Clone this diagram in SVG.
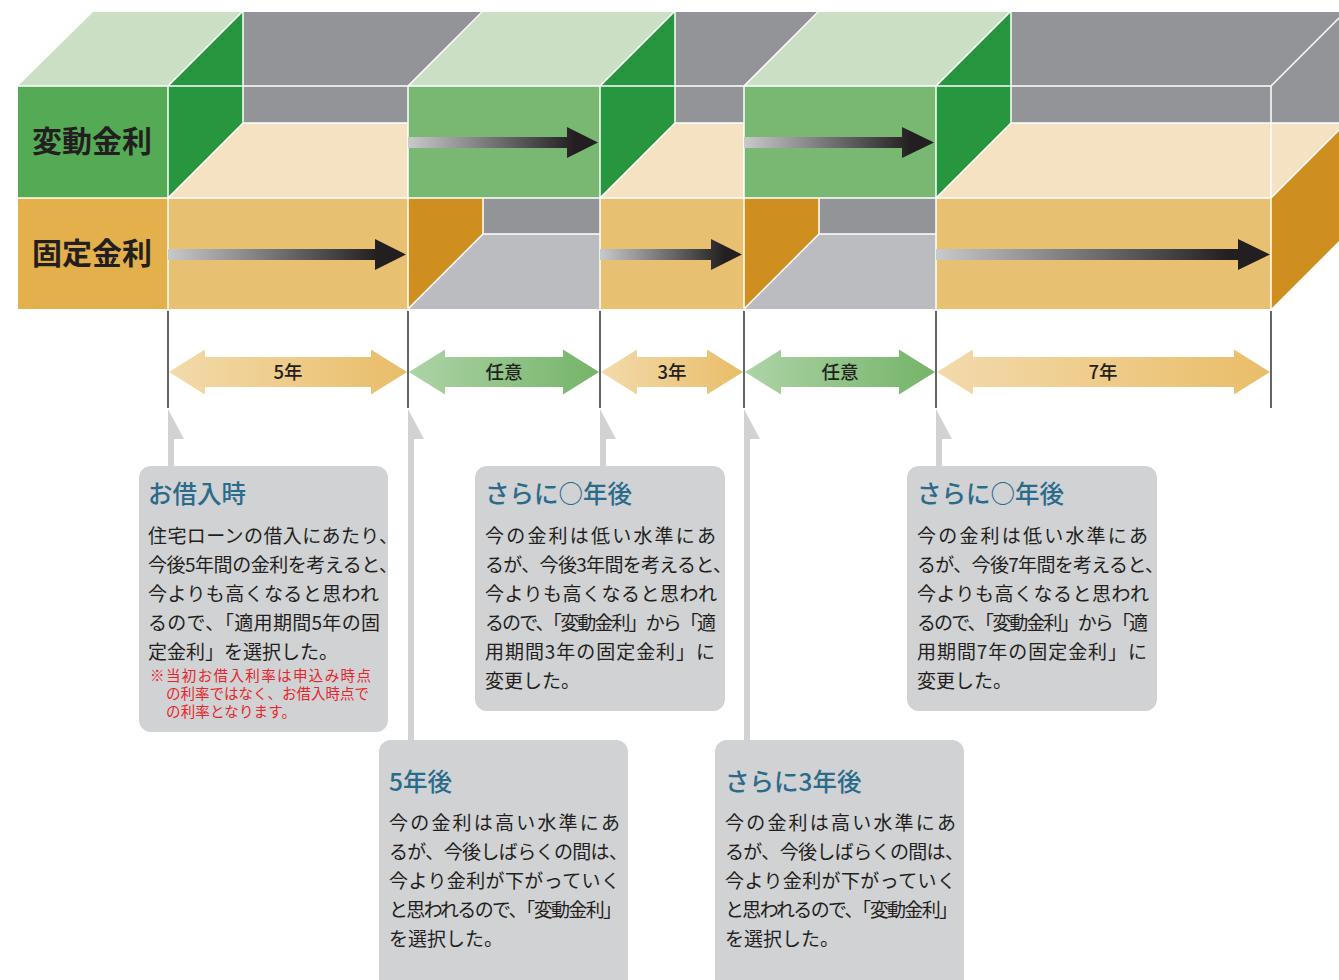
<svg xmlns="http://www.w3.org/2000/svg" width="1339" height="980" viewBox="0 0 1339 980">
<defs>
<linearGradient id="gArr" x1="0" y1="0" x2="1" y2="0"><stop offset="0" stop-color="#c8c9cb"/><stop offset="0.88" stop-color="#231f20"/></linearGradient>
<linearGradient id="gOr" x1="0" y1="0" x2="1" y2="0"><stop offset="0" stop-color="#f3daab"/><stop offset="1" stop-color="#e9bd68"/></linearGradient>
<linearGradient id="gGr" x1="0" y1="0" x2="1" y2="0"><stop offset="0" stop-color="#aed3a6"/><stop offset="1" stop-color="#74b469"/></linearGradient>
<style>
.gray{fill:#939497}
.floor{fill:#bbbcbf}
.ltg{fill:#cbdfc4}
.dkg{fill:#27963f}
.grf{fill:#79b872}
.beige{fill:#f5e2c3}
.orf{fill:#e8c072}
.ors{fill:#cf8f20}
.edge{stroke:#ffffff;stroke-width:1.5;fill:none}
.tick{stroke:#333333;stroke-width:1.5}
.ptr{fill:#d1d2d4}
.box{fill:#d1d2d4}
text{font-family:"Noto Sans CJK JP","Noto Sans",sans-serif}
.title{font-size:24.5px;fill:#2a6b8b;font-weight:500}
.body{font-size:19px;fill:#231f20}
text.note{font-family:"Liberation Sans","Noto Sans CJK JP",sans-serif;font-size:14.5px;fill:#e4262c}
.lab{font-size:30px;font-weight:bold;fill:#231f20}
.span{font-size:18.5px;fill:#231f20;text-anchor:middle;font-weight:500}
</style>
</defs>

<g id="bar3d">
  <rect class="gray" x="93" y="12" width="1253" height="222"/>
  <polygon class="ltg" points="18,86 168,86 243,12 93,12"/>
  <polygon class="dkg" points="168,86 243,11 243,123 168,198"/>
  <rect x="18" y="86" width="150" height="112" fill="#55ab55"/>
  <rect x="18" y="198" width="150" height="111" fill="#e3b04b"/>
  <polygon class="beige" points="168,198 408,198 408,123 243,123"/>
  <rect class="orf" x="168" y="198" width="240" height="111"/>
  <polygon class="ors" points="408,198 483,198 483,234 408,309"/>
  <polygon class="floor" points="408,309 483,234 600,234 600,309"/>
  <polygon class="ltg" points="408,86 600,86 675,12 483,12"/>
  <rect class="grf" x="408" y="86" width="192" height="112"/>
  <polygon class="dkg" points="600,86 675,11 675,123 600,198"/>
  <polygon class="beige" points="600,198 744,198 744,123 675,123"/>
  <rect class="orf" x="600" y="198" width="144" height="111"/>
  <polygon class="ors" points="744,198 819,198 819,234 744,309"/>
  <polygon class="floor" points="744,309 819,234 936,234 936,309"/>
  <polygon class="ltg" points="744,86 936,86 1011,12 819,12"/>
  <rect class="grf" x="744" y="86" width="192" height="112"/>
  <polygon class="dkg" points="936,86 1011,11 1011,123 936,198"/>
  <polygon class="beige" points="936,198 1271,198 1346,123 1011,123"/>
  <rect class="orf" x="936" y="198" width="335" height="111"/>
  <polygon class="ors" points="1271,198 1346,123 1346,234 1271,309"/>
  <path class="edge" d="M18,86 H1271 M18,198 H1271 M168,86 V309 M408,86 V309 M600,86 V309 M744,86 V309 M936,86 V309 M1271,86 V309 M168,86 L243,11 M408,86 L483,11 M600,86 L675,11 M744,86 L819,11 M936,86 L1011,11 M1271,86 L1346,11 M243,11 V123 H408 M675,11 V123 H744 M1011,11 V123 H1346 M168,198 L243,123 M600,198 L675,123 M936,198 L1011,123 M1271,198 L1346,123 M483,198 V234 H600 M819,198 V234 H936 M408,309 L483,234 M744,309 L819,234"/>
  <text class="lab" x="32" y="152">変動金利</text>
  <text class="lab" x="32" y="264">固定金利</text>
  <path fill="url(#gArr)" d="M168,249 H375 V239 L406,254.5 L375,270 V260 H168 Z"/>
  <path fill="url(#gArr)" d="M408,137 H567 V127 L598,142.5 L567,158 V148 H408 Z"/>
  <path fill="url(#gArr)" d="M600,249 H711 V239 L742,254.5 L711,270 V260 H600 Z"/>
  <path fill="url(#gArr)" d="M744,137 H902 V127 L934,142.5 L902,158 V148 H744 Z"/>
  <path fill="url(#gArr)" d="M936,249 H1238 V239 L1270,254.5 L1238,270 V260 H936 Z"/>
</g>

<g id="timeline">
  <path class="tick" d="M168,311 V408 M408,311 V408 M600,311 V408 M744,311 V408 M936,311 V408 M1271,311 V408"/>
  <g id="span-5y">
    <path fill="url(#gOr)" d="M169,372 L205,349.5 V357 H371 V349.5 L407,372 L371,394.5 V387 H205 V394.5 Z"/>
    <text class="span" x="288" y="378.5">5年</text>
  </g>
  <g id="span-any1">
    <path fill="url(#gGr)" d="M409,372 L445,349.5 V357 H563 V349.5 L599,372 L563,394.5 V387 H445 V394.5 Z"/>
    <text class="span" x="504" y="378.5">任意</text>
  </g>
  <g id="span-3y">
    <path fill="url(#gOr)" d="M601,372 L637,349.5 V357 H707 V349.5 L743,372 L707,394.5 V387 H637 V394.5 Z"/>
    <text class="span" x="672" y="378.5">3年</text>
  </g>
  <g id="span-any2">
    <path fill="url(#gGr)" d="M745,372 L781,349.5 V357 H899 V349.5 L935,372 L899,394.5 V387 H781 V394.5 Z"/>
    <text class="span" x="840" y="378.5">任意</text>
  </g>
  <g id="span-7y">
    <path fill="url(#gOr)" d="M937,372 L973,349.5 V357 H1234 V349.5 L1270,372 L1234,394.5 V387 H973 V394.5 Z"/>
    <text class="span" x="1103" y="378.5">7年</text>
  </g>
</g>

<g id="connectors">
  <polygon class="ptr" points="168,409 184,439 174,439 174,467 168,467"/>
  <polygon class="ptr" points="408,409 424,439 414,439 414,741 408,741"/>
  <polygon class="ptr" points="600,409 616,439 606,439 606,467 600,467"/>
  <polygon class="ptr" points="744,409 760,439 750,439 750,741 744,741"/>
  <polygon class="ptr" points="936,409 952,439 942,439 942,467 936,467"/>
</g>

<g id="box-borrow">
  <rect class="box" x="139" y="466" width="249" height="266" rx="12"/>
  <text class="title" x="148" y="503">お借入時</text>
  <text class="body" x="148" y="543" textLength="250">住宅ローンの借入にあたり、</text>
  <text class="body" x="148" y="572" textLength="250">今後5年間の金利を考えると、</text>
  <text class="body" x="148" y="601" textLength="231">今よりも高くなると思われ</text>
  <text class="body" x="148" y="630" textLength="232">るので、「適用期間5年の固</text>
  <text class="body" x="148" y="659">定金利」を選択した。</text>
  <text class="note" x="150" y="681" textLength="221">※当初お借入利率は申込み時点</text>
  <text class="note" x="166" y="699" textLength="203">の利率ではなく、お借入時点で</text>
  <text class="note" x="166" y="717" textLength="130">の利率となります。</text>
</g>

<g id="box-later1">
  <rect class="box" x="475" y="466" width="250" height="245" rx="12"/>
  <text class="title" x="485" y="503">さらに○年後</text>
  <text class="body" x="485" y="543" textLength="231">今の金利は低い水準にあ</text>
  <text class="body" x="485" y="572" textLength="247">るが、今後3年間を考えると、</text>
  <text class="body" x="485" y="601" textLength="232">今よりも高くなると思われ</text>
  <text class="body" x="485" y="630" textLength="231">るので、「変動金利」から「適</text>
  <text class="body" x="485" y="659" textLength="230">用期間3年の固定金利」に</text>
  <text class="body" x="485" y="688">変更した。</text>
</g>

<g id="box-later2">
  <rect class="box" x="907" y="466" width="250" height="245" rx="12"/>
  <text class="title" x="917" y="503">さらに○年後</text>
  <text class="body" x="917" y="543" textLength="231">今の金利は低い水準にあ</text>
  <text class="body" x="917" y="572" textLength="247">るが、今後7年間を考えると、</text>
  <text class="body" x="917" y="601" textLength="232">今よりも高くなると思われ</text>
  <text class="body" x="917" y="630" textLength="231">るので、「変動金利」から「適</text>
  <text class="body" x="917" y="659" textLength="230">用期間7年の固定金利」に</text>
  <text class="body" x="917" y="688">変更した。</text>
</g>

<g id="box-5y">
  <rect class="box" x="379" y="740" width="249" height="252" rx="12"/>
  <text class="title" x="389" y="791">5年後</text>
  <text class="body" x="389" y="830" textLength="231">今の金利は高い水準にあ</text>
  <text class="body" x="389" y="859" textLength="239">るが、今後しばらくの間は、</text>
  <text class="body" x="389" y="888" textLength="231">今より金利が下がっていく</text>
  <text class="body" x="389" y="917" textLength="233">と思われるので、「変動金利」</text>
  <text class="body" x="389" y="946">を選択した。</text>
</g>

<g id="box-3y">
  <rect class="box" x="715" y="740" width="249" height="252" rx="12"/>
  <text class="title" x="725" y="791">さらに3年後</text>
  <text class="body" x="725" y="830" textLength="231">今の金利は高い水準にあ</text>
  <text class="body" x="725" y="859" textLength="239">るが、今後しばらくの間は、</text>
  <text class="body" x="725" y="888" textLength="231">今より金利が下がっていく</text>
  <text class="body" x="725" y="917" textLength="233">と思われるので、「変動金利」</text>
  <text class="body" x="725" y="946">を選択した。</text>
</g>
</svg>
